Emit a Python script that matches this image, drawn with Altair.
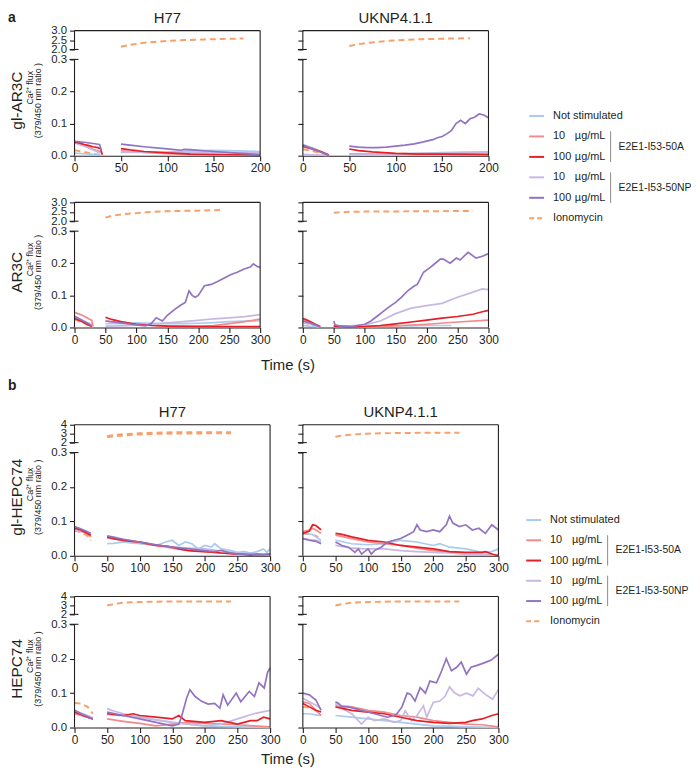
import altair as alt
import pandas as pd

FONT = "Liberation Sans"
INK = "#231f20"
KEYS = ["ns", "a10", "np10", "a100", "np100"]
COLORS = ["#a8cbee", "#f28a8c", "#c7b8e3", "#e61f27", "#9273c2"]
ION = "#f8a06b"

# ---------------- panel a : H77, gl-AR3C ----------------
A1 = {
    "ns": ([0, 10, 20, 28, 50, 75, 100, 125, 150, 175, 200],
           [0.008, 0.006, 0.004, 0.003, 0.010, 0.011, 0.012, 0.015, 0.017, 0.015, 0.013]),
    "a10": ([0, 10, 20, 28, 50, 75, 100, 125, 150, 175, 200],
            [0.045, 0.035, 0.020, 0.012, 0.015, 0.010, 0.006, 0.004, 0.003, 0.004, 0.008]),
    "np10": ([0, 10, 20, 28, 50, 75, 100, 125, 150, 175, 200],
             [0.040, 0.030, 0.018, 0.008, 0.012, 0.010, 0.009, 0.011, 0.012, 0.010, 0.008]),
    "a100": ([0, 5, 10, 15, 20, 25, 28, 30, 50, 60, 75, 100, 125, 150, 175, 200],
             [0.042, 0.040, 0.035, 0.032, 0.028, 0.025, 0.022, 0.003, 0.022, 0.018, 0.013, 0.009, 0.005, 0.004, 0.003, 0.002]),
    "np100": ([0, 10, 20, 27, 29, 50, 60, 75, 100, 115, 118, 125, 150, 175, 200],
              [0.045, 0.042, 0.038, 0.035, 0.015, 0.036, 0.033, 0.028, 0.021, 0.017, 0.020, 0.019, 0.013, 0.008, 0.003]),
    "ionlo": ([0, 10, 20, 28], [0.017, 0.012, 0.006, 0.002]),
    "ionhi": ([50, 60, 70, 80, 90, 100, 120, 140, 160, 182],
              [2.15, 2.25, 2.32, 2.38, 2.42, 2.45, 2.50, 2.53, 2.56, 2.58]),
}

# ---------------- panel a : UKNP4.1.1, gl-AR3C ----------------
A2 = {
    "ns": ([0, 10, 20, 28, 50, 100, 125, 150, 200],
           [0.035, 0.025, 0.012, 0.002, 0.002, 0.004, 0.006, 0.005, 0.006]),
    "a10": ([0, 10, 20, 28, 50, 100, 150, 200],
            [0.028, 0.020, 0.010, 0.002, 0.006, 0.006, 0.007, 0.007]),
    "np10": ([0, 10, 20, 28, 50, 100, 150, 175, 200],
             [0.004, 0.003, 0.002, 0.001, 0.004, 0.006, 0.010, 0.011, 0.012]),
    "a100": ([0, 10, 20, 28, 50, 60, 75, 100, 125, 150, 175, 200],
             [0.030, 0.022, 0.012, 0.002, 0.021, 0.016, 0.012, 0.007, 0.005, 0.005, 0.004, 0.003]),
    "np100": ([0, 10, 20, 28, 50, 60, 70, 80, 90, 100, 110, 120, 130, 140, 145, 150, 155, 160, 165, 170,
               175, 180, 185, 190, 195, 200],
              [0.033, 0.022, 0.011, 0.001, 0.030, 0.027, 0.025, 0.025, 0.027, 0.030, 0.033, 0.037, 0.043,
               0.050, 0.056, 0.060, 0.068, 0.078, 0.100, 0.110, 0.100, 0.115, 0.120, 0.130, 0.127, 0.118]),
    "ionlo": ([0, 10, 20, 28], [0.020, 0.015, 0.008, 0.002]),
    "ionhi": ([50, 60, 70, 80, 90, 100, 120, 140, 160, 180],
              [2.18, 2.28, 2.35, 2.40, 2.45, 2.48, 2.53, 2.56, 2.58, 2.60]),
}

# ---------------- panel a : H77, AR3C ----------------
A3 = {
    "ns": ([0, 10, 20, 28, 50, 75, 100, 125, 150, 175, 200, 225, 250, 275, 300],
           [0.030, 0.022, 0.015, 0.010, 0.012, 0.012, 0.014, 0.013, 0.012, 0.012, 0.013, 0.015, 0.018, 0.020, 0.020]),
    "a10": ([0, 10, 20, 25, 28, 30, 50, 75, 100, 125, 150, 175, 200, 225, 250, 275, 300],
            [0.047, 0.040, 0.030, 0.025, 0.022, 0.003, 0.020, 0.015, 0.010, 0.007, 0.005, 0.004, 0.004, 0.006,
             0.012, 0.018, 0.026]),
    "np10": ([0, 10, 20, 28, 50, 75, 100, 125, 150, 175, 200, 225, 250, 275, 300],
             [0.035, 0.025, 0.012, 0.004, 0.004, 0.005, 0.007, 0.010, 0.014, 0.018, 0.022, 0.027, 0.030, 0.034, 0.040]),
    "a100": ([0, 10, 20, 28, 50, 60, 75, 100, 125, 150, 200, 250, 300],
             [0.028, 0.020, 0.010, 0.003, 0.032, 0.025, 0.018, 0.010, 0.006, 0.004, 0.003, 0.003, 0.003]),
    "np100": ([0, 10, 20, 28, 50, 75, 100, 115, 124, 132, 142, 150, 163, 172, 179, 185, 190, 195, 200, 210,
               221, 232, 242, 253, 263, 274, 284, 289, 295, 300],
              [0.035, 0.025, 0.015, 0.005, 0.020, 0.014, 0.008, 0.005, 0.012, 0.030, 0.020, 0.038, 0.058, 0.070,
               0.078, 0.114, 0.100, 0.094, 0.100, 0.130, 0.134, 0.144, 0.154, 0.165, 0.172, 0.182, 0.188, 0.198,
               0.190, 0.188]),
    "ionlo": ([0, 10, 20, 28], [0.025, 0.018, 0.010, 0.003]),
    "ionhi": ([50, 60, 75, 100, 125, 150, 175, 200, 235],
              [2.19, 2.28, 2.36, 2.43, 2.49, 2.53, 2.55, 2.56, 2.59]),
}

# ---------------- panel a : UKNP4.1.1, AR3C ----------------
A4 = {
    "ns": ([0, 10, 20, 28, 50, 100, 150, 175, 200, 240],
           [0.006, 0.004, 0.003, 0.002, 0.004, 0.004, 0.006, 0.005, 0.006, 0.006]),
    "a10": ([0, 10, 20, 28, 50, 100, 150, 200, 250, 300],
            [0.025, 0.018, 0.010, 0.003, 0.003, 0.002, 0.005, 0.010, 0.017, 0.023]),
    "np10": ([0, 10, 20, 28, 50, 75, 100, 125, 150, 175, 200, 225, 250, 275, 290, 300],
             [0.015, 0.012, 0.008, 0.003, 0.005, 0.005, 0.008, 0.020, 0.043, 0.060, 0.068, 0.075, 0.094, 0.110,
              0.120, 0.118]),
    "a100": ([0, 5, 10, 20, 28, 50, 75, 100, 125, 150, 175, 200, 225, 250, 275, 290, 300],
             [0.028, 0.025, 0.020, 0.010, 0.002, 0.004, 0.002, 0.003, 0.006, 0.011, 0.017, 0.023, 0.029, 0.034,
              0.041, 0.049, 0.053]),
    "np100": ([0, 10, 20, 28, 50, 52, 60, 80, 100, 110, 120, 130, 140, 150, 160, 170, 180, 185, 195, 206, 214,
               222, 227, 238, 248, 254, 267, 280, 290, 300],
              [0.020, 0.015, 0.008, 0.002, 0.020, 0.008, 0.004, 0.003, 0.010, 0.020, 0.035, 0.050, 0.065, 0.078,
               0.095, 0.115, 0.129, 0.134, 0.172, 0.187, 0.200, 0.213, 0.213, 0.200, 0.216, 0.210, 0.234, 0.216,
               0.222, 0.230]),
    "ionlo": ([0, 10, 20, 28], [0.015, 0.010, 0.006, 0.002]),
    "ionhi": ([50, 75, 100, 150, 200, 250, 275],
              [2.45, 2.50, 2.51, 2.52, 2.53, 2.54, 2.54]),
}

# ---------------- panel b : H77, gl-HEPC74 ----------------
B1 = {
    "ns": ([0, 10, 20, 25, 50, 60, 75, 90, 100, 110, 125, 140, 150, 160, 170, 180, 190, 200, 210, 215, 225,
            240, 250, 260, 270, 280, 290, 295, 300],
           [0.075, 0.070, 0.065, 0.060, 0.035, 0.036, 0.040, 0.037, 0.035, 0.033, 0.030, 0.040, 0.045, 0.030,
            0.040, 0.035, 0.020, 0.030, 0.025, 0.035, 0.020, 0.015, 0.010, 0.012, 0.008, 0.012, 0.020, 0.010,
            0.020]),
    "a10": ([0, 10, 20, 25, 50, 75, 100, 125, 150, 175, 200, 225, 250, 275, 300],
            [0.080, 0.072, 0.065, 0.055, 0.052, 0.045, 0.038, 0.030, 0.022, 0.016, 0.012, 0.008, 0.005, 0.004,
             0.005]),
    "np10": ([0, 10, 20, 25, 50, 75, 100, 125, 150, 175, 200, 225, 250, 275, 300],
             [0.085, 0.078, 0.068, 0.060, 0.055, 0.047, 0.040, 0.032, 0.025, 0.022, 0.020, 0.014, 0.008, 0.006,
              0.005]),
    "a100": ([0, 5, 10, 15, 20, 25, 50, 60, 75, 90, 100, 110, 125, 140, 150, 160, 175, 190, 200, 215, 225,
              240, 250, 260, 270, 280, 290, 300],
             [0.080, 0.078, 0.075, 0.070, 0.065, 0.060, 0.055, 0.050, 0.045, 0.042, 0.040, 0.036, 0.030, 0.028,
              0.025, 0.020, 0.015, 0.013, 0.012, 0.010, 0.008, 0.006, 0.005, 0.004, 0.002, 0.004, 0.003, 0.005]),
    "np100": ([0, 10, 20, 25, 50, 60, 75, 100, 125, 150, 175, 200, 215, 225, 235, 250, 275, 300],
              [0.085, 0.078, 0.070, 0.065, 0.058, 0.054, 0.048, 0.040, 0.032, 0.025, 0.020, 0.015, 0.012, 0.016,
               0.010, 0.005, 0.004, 0.003]),
    "ionlo": ([0, 10, 20, 25], [0.075, 0.070, 0.060, 0.045]),
    "ionhi": ([50, 60, 75, 100, 125, 150, 200, 240],
              [2.65, 2.78, 2.88, 2.98, 3.05, 3.08, 3.10, 3.10]),
}

# ---------------- panel b : UKNP4.1.1, gl-HEPC74 ----------------
B2 = {
    "ns": ([0, 10, 15, 20, 28, 50, 75, 100, 125, 150, 175, 200, 210, 225, 250, 275, 290, 300],
           [0.065, 0.063, 0.062, 0.055, 0.045, 0.045, 0.035, 0.032, 0.035, 0.045, 0.040, 0.030, 0.035, 0.025,
            0.020, 0.010, 0.012, 0.020]),
    "a10": ([0, 10, 15, 20, 28, 50, 75, 100, 125, 150, 175, 200, 225, 250, 275, 300],
            [0.070, 0.075, 0.080, 0.075, 0.065, 0.060, 0.050, 0.040, 0.035, 0.030, 0.022, 0.015, 0.010, 0.005,
             0.004, 0.002]),
    "np10": ([0, 10, 20, 28, 50, 75, 100, 125, 150, 175, 200, 225, 250, 275, 300],
             [0.050, 0.047, 0.045, 0.040, 0.030, 0.022, 0.020, 0.020, 0.015, 0.012, 0.010, 0.008, 0.005, 0.003,
              0.002]),
    "a100": ([0, 5, 10, 15, 20, 25, 28, 50, 60, 75, 100, 125, 150, 175, 200, 225, 250, 275, 280, 290, 300],
             [0.065, 0.068, 0.072, 0.090, 0.088, 0.080, 0.075, 0.065, 0.062, 0.055, 0.045, 0.040, 0.030, 0.025,
              0.020, 0.012, 0.010, 0.010, 0.012, 0.005, 0.000]),
    "np100": ([0, 10, 20, 28, 50, 60, 70, 80, 85, 90, 100, 105, 110, 120, 130, 140, 150, 160, 170, 175, 180,
               190, 200, 210, 220, 225, 230, 240, 250, 260, 270, 280, 290, 300],
              [0.050, 0.045, 0.042, 0.035, 0.040, 0.030, 0.025, 0.010, 0.020, 0.005, 0.020, 0.005, 0.015, 0.025,
               0.040, 0.045, 0.050, 0.060, 0.070, 0.090, 0.075, 0.070, 0.075, 0.070, 0.090, 0.115, 0.095, 0.085,
               0.090, 0.075, 0.080, 0.065, 0.090, 0.075]),
    "ionlo": ([0, 10, 20, 28], [0.065, 0.062, 0.058, 0.050]),
    "ionhi": ([50, 60, 75, 100, 125, 150, 200, 240],
              [2.65, 2.80, 2.90, 3.00, 3.05, 3.08, 3.10, 3.10]),
}

# ---------------- panel b : H77, HEPC74 ----------------
B3 = {
    "ns": ([0, 10, 20, 28, 50, 75, 100, 125, 150, 175, 200, 225, 250, 275, 300],
           [0.045, 0.038, 0.030, 0.025, 0.038, 0.034, 0.030, 0.022, 0.015, 0.010, 0.005, 0.003, 0.002, 0.001,
            0.000]),
    "a10": ([0, 10, 20, 28, 50, 75, 100, 125, 150, 175, 200, 225, 250, 275, 300],
            [0.040, 0.035, 0.030, 0.025, 0.025, 0.018, 0.012, 0.005, 0.010, 0.015, 0.012, 0.010, 0.008, 0.005,
             0.002]),
    "np10": ([0, 10, 20, 28, 50, 60, 75, 100, 125, 150, 175, 200, 225, 250, 275, 300],
             [0.050, 0.042, 0.035, 0.028, 0.055, 0.048, 0.040, 0.030, 0.022, 0.015, 0.010, 0.005, 0.010, 0.025,
              0.040, 0.050]),
    "a100": ([0, 10, 20, 28, 50, 75, 90, 100, 125, 150, 160, 170, 200, 225, 250, 270, 280, 290, 300],
             [0.045, 0.038, 0.030, 0.025, 0.040, 0.035, 0.040, 0.035, 0.030, 0.025, 0.035, 0.020, 0.015, 0.020,
              0.010, 0.020, 0.020, 0.030, 0.025]),
    "np100": ([0, 10, 20, 28, 50, 75, 100, 125, 150, 160, 164, 172, 177, 185, 195, 205, 215, 223, 228, 235,
               248, 255, 268, 276, 283, 291, 296, 300],
              [0.050, 0.040, 0.032, 0.025, 0.045, 0.035, 0.025, 0.015, 0.005, 0.010, 0.030, 0.086, 0.110, 0.090,
               0.076, 0.068, 0.070, 0.056, 0.095, 0.065, 0.100, 0.075, 0.105, 0.090, 0.130, 0.115, 0.160, 0.173]),
    "ionlo": ([0, 10, 20, 28], [0.071, 0.070, 0.060, 0.040]),
    "ionhi": ([50, 60, 75, 100, 125, 150, 200, 240],
              [3.00, 3.15, 3.30, 3.38, 3.42, 3.44, 3.45, 3.45]),
}

# ---------------- panel b : UKNP4.1.1, HEPC74 ----------------
B4 = {
    "ns": ([0, 10, 20, 28, 50, 75, 100, 125, 150, 175, 200, 225, 250, 275, 300],
           [0.040, 0.040, 0.037, 0.035, 0.035, 0.030, 0.025, 0.020, 0.015, 0.010, 0.005, 0.004, 0.002, 0.001,
            0.000]),
    "a10": ([0, 10, 20, 28, 50, 75, 100, 125, 150, 175, 200, 225, 250, 275, 300],
            [0.075, 0.070, 0.050, 0.035, 0.065, 0.060, 0.050, 0.045, 0.035, 0.030, 0.020, 0.015, 0.010, 0.008,
             0.002]),
    "np10": ([0, 10, 20, 28, 50, 60, 75, 90, 100, 110, 125, 140, 150, 157, 167, 175, 185, 190, 200, 210, 218,
              225, 233, 241, 251, 261, 269, 281, 291, 300],
             [0.085, 0.075, 0.065, 0.055, 0.070, 0.055, 0.040, 0.010, 0.030, 0.020, 0.025, 0.015, 0.020, 0.048,
              0.020, 0.035, 0.063, 0.030, 0.073, 0.077, 0.090, 0.118, 0.100, 0.092, 0.100, 0.092, 0.114, 0.095,
              0.082, 0.111]),
    "a100": ([0, 10, 20, 28, 50, 75, 100, 125, 150, 175, 200, 225, 250, 260, 275, 290, 300],
             [0.070, 0.060, 0.050, 0.045, 0.060, 0.050, 0.045, 0.040, 0.030, 0.020, 0.015, 0.012, 0.015, 0.020,
              0.025, 0.035, 0.040]),
    "np100": ([0, 10, 20, 28, 50, 55, 60, 70, 80, 90, 100, 110, 120, 130, 140, 144, 152, 160, 165, 172, 180,
               188, 195, 205, 213, 220, 228, 236, 243, 251, 258, 266, 274, 281, 289, 300],
              [0.100, 0.095, 0.080, 0.050, 0.075, 0.070, 0.060, 0.060, 0.055, 0.050, 0.045, 0.040, 0.035, 0.030,
               0.035, 0.039, 0.060, 0.100, 0.097, 0.077, 0.116, 0.100, 0.135, 0.130, 0.165, 0.200, 0.165, 0.175,
               0.190, 0.155, 0.175, 0.180, 0.185, 0.190, 0.196, 0.213]),
    "ionlo": ([0, 10, 20, 28], [0.060, 0.058, 0.050, 0.040]),
    "ionhi": ([50, 60, 75, 100, 125, 150, 200, 240],
              [3.00, 3.15, 3.30, 3.38, 3.42, 3.45, 3.45, 3.45]),
}

# ---------------- legend text ----------------
LEG_KEY = ["ns", "a10", "a100", "np10", "np100", "ion"]
LEG_NUM = ["Not stimulated", "10", "100", "10", "100", "Ionomycin"]
LEG_UNIT = ["", "µg/mL", "µg/mL", "µg/mL", "µg/mL", ""]
GROUP_NAMES = ["E2E1-I53-50A", "E2E1-I53-50NP"]

ONE = pd.DataFrame({"k": [0]})
GAP = 10
LW = 1.1


def series_df(P, keys):
    rows = []
    for k in keys:
        ts, vs = P[k]
        for t, v in zip(ts, vs):
            rows.append({"key": k, "t": t, "v": v, "seg": int(t > 40)})
    return pd.DataFrame(rows)


def rule(**enc):
    return alt.Chart(ONE).mark_rule(color=INK, strokeWidth=LW).encode(**enc)


def txt(text, size, x, y, angle=0, weight="normal", align="center", baseline="middle"):
    kw = dict(text=text, fontSize=size, font=FONT, color=INK, fontWeight=weight,
              align=align, baseline=baseline)
    if angle:
        kw["angle"] = angle
    return alt.Chart(ONE).mark_text(**kw).encode(x=alt.value(x), y=alt.value(y))


def panel(P, xmax, W, Ht, Hb, top_dom, top_ticks, label_expr, first, title=None,
          ylabel=None, tag=None, tag_y=-20, time_y=None, ion_w=2.0):
    Htot = Ht + GAP + Hb
    xs = alt.Scale(domain=[0, xmax], nice=False, zero=False)
    ys = alt.Scale(domain=[0, 0.3, top_dom[0], top_dom[1]], range=[Htot, Ht + GAP, Ht, 0],
                   nice=False, zero=False)
    X = alt.X("t:Q", scale=xs, axis=alt.Axis(values=list(range(0, xmax + 1, 50)), title=None,
                                             labelFlush=False, labelFontSize=12))
    Y = alt.Y("v:Q", scale=ys, axis=alt.Axis(values=[0, 0.1, 0.2, 0.3] + top_ticks, labelExpr=label_expr,
                                             labels=first, domain=False, title=None, labelFontSize=11.5,
                                             labelOverlap=False, labelFlush=False, labelPadding=3))
    ion_df = pd.concat([series_df(P, ["ionlo"]), series_df(P, ["ionhi"])])
    ion = alt.Chart(ion_df).mark_line(color=ION, strokeWidth=ion_w, strokeDash=[6, 4]).encode(
        x=X, y=Y, detail="seg:N")
    lines = alt.Chart(series_df(P, KEYS)).mark_line(strokeWidth=1.7).encode(
        x=X, y=Y, detail="seg:N",
        color=alt.Color("key:N", scale=alt.Scale(domain=KEYS, range=COLORS), legend=None))
    # broken left axis: two domain segments and their end caps
    segs = pd.DataFrame({"v": [0, top_dom[0]], "v2": [0.3, top_dom[1]]})
    axis_segs = alt.Chart(segs).mark_rule(color=INK, strokeWidth=LW).encode(
        x=alt.value(0), y=Y, y2="v2:Q")
    caps = alt.Chart(pd.DataFrame({"v": [0.3, top_dom[0]]})).mark_rule(color=INK, strokeWidth=LW).encode(
        x=alt.value(-5), x2=alt.value(4), y=Y)
    layers = [ion, lines, axis_segs, caps,
              rule(x=alt.value(0), x2=alt.value(W), y=alt.value(0)),
              rule(x=alt.value(W), y=alt.value(0), y2=alt.value(Htot))]
    if ylabel:
        c = Ht + GAP + Hb / 2
        layers += [txt(ylabel, 15.5, -58, c - 7, angle=270),
                   txt("Ca²⁺ flux", 9, -45, c - 20, angle=270),
                   txt("(379/450 nm ratio )", 9, -37, c - 7, angle=270)]
    if tag:
        layers.append(txt(tag, 14, -67, tag_y, weight="bold", align="left", baseline="top"))
    if title:
        layers.append(txt(title, 15, W / 2, -13))
    if time_y is not None:
        layers.append(txt("Time (s)", 15, 215, time_y))
    return alt.layer(*layers).properties(width=W, height=Htot)


def legend(p0, step, H, dx):
    d0 = -p0 / step
    d1 = d0 + H / step
    ys = alt.Scale(domain=[d0, d1], reverse=True, nice=False, zero=False)
    ldf = pd.DataFrame({"row": list(range(len(LEG_KEY))), "key": LEG_KEY,
                        "num": LEG_NUM, "unit": LEG_UNIT})
    gdf = pd.DataFrame({"g": GROUP_NAMES, "lo": [0.75, 2.75], "hi": [2.25, 4.25], "mid": [1.5, 3.5]})
    y = alt.Y("row:Q", scale=ys, axis=None)
    solid = alt.Chart(ldf[ldf.key != "ion"]).mark_rule(strokeWidth=2).encode(
        x=alt.value(dx), x2=alt.value(dx + 15), y=y,
        color=alt.Color("key:N", scale=alt.Scale(domain=KEYS, range=COLORS), legend=None))
    dashed = alt.Chart(ldf[ldf.key == "ion"]).mark_rule(strokeWidth=2, strokeDash=[5, 3], color=ION).encode(
        x=alt.value(dx), x2=alt.value(dx + 15), y=y)
    tstyle = dict(align="left", baseline="middle", fontSize=11, font=FONT, color=INK)
    num = alt.Chart(ldf).mark_text(**tstyle).encode(x=alt.value(dx + 24), y=y, text="num:N")
    unit = alt.Chart(ldf).mark_text(**tstyle).encode(x=alt.value(dx + 46), y=y, text="unit:N")
    bars = alt.Chart(gdf).mark_rule(color="#8c8c8c", strokeWidth=1).encode(
        x=alt.value(dx + 82), y=alt.Y("lo:Q", scale=ys, axis=None), y2="hi:Q")
    gtext = alt.Chart(gdf).mark_text(**dict(tstyle, fontSize=10.5)).encode(
        x=alt.value(dx + 90), y=alt.Y("mid:Q", scale=ys, axis=None), text="g:N")
    return alt.layer(solid, dashed, num, unit, bars, gtext).properties(width=20, height=H)


EXPR_A = "format(datum.value, '.1f')"
EXPR_B = "datum.value >= 1 ? format(datum.value, 'd') : format(datum.value, '.1f')"

pa = dict(W=187, Ht=19, Hb=97, top_dom=[2.0, 3.0], top_ticks=[2.0, 2.5, 3.0], label_expr=EXPR_A)
pb = dict(W=197, Ht=18, Hb=104, top_dom=[2, 4], top_ticks=[2, 3, 4], label_expr=EXPR_B, xmax=300)

filler = alt.Chart(ONE).mark_point(opacity=0).encode(
    x=alt.value(0), y=alt.value(0)).properties(width=20, height=183)

cells = [
    panel(A1, xmax=200, first=True, title="H77", ylabel="gl-AR3C", tag="a", **pa),
    panel(A2, xmax=200, first=False, title="UKNP4.1.1", **pa),
    legend(86, 20.6, 132, -2),
    panel(A3, xmax=300, first=True, ylabel="AR3C", time_y=164, **pa),
    panel(A4, xmax=300, first=False, **pa),
    filler,
    panel(B1, first=True, title="H77", ylabel="gl-HEPC74", tag="b", tag_y=-46, ion_w=3.2, **pb),
    panel(B2, first=False, title="UKNP4.1.1", **pb),
    legend(96, 20.4, 132, -5),
    panel(B3, first=True, ylabel="HEPC74", time_y=164, **pb),
    panel(B4, first=False, **pb),
]

chart = alt.concat(*cells, columns=3, align="each", bounds="flush",
                   spacing={"row": 41, "column": 33}).properties(
    padding=0, background="white"
).configure_view(stroke=None).configure_axis(
    labelFont=FONT, labelFontSize=12, labelColor=INK, domainColor=INK, tickColor=INK,
    domainWidth=LW, tickWidth=LW, tickSize=5, labelPadding=2, grid=False
)

chart.save("out.html", embed_options={"renderer": "svg", "actions": False})
